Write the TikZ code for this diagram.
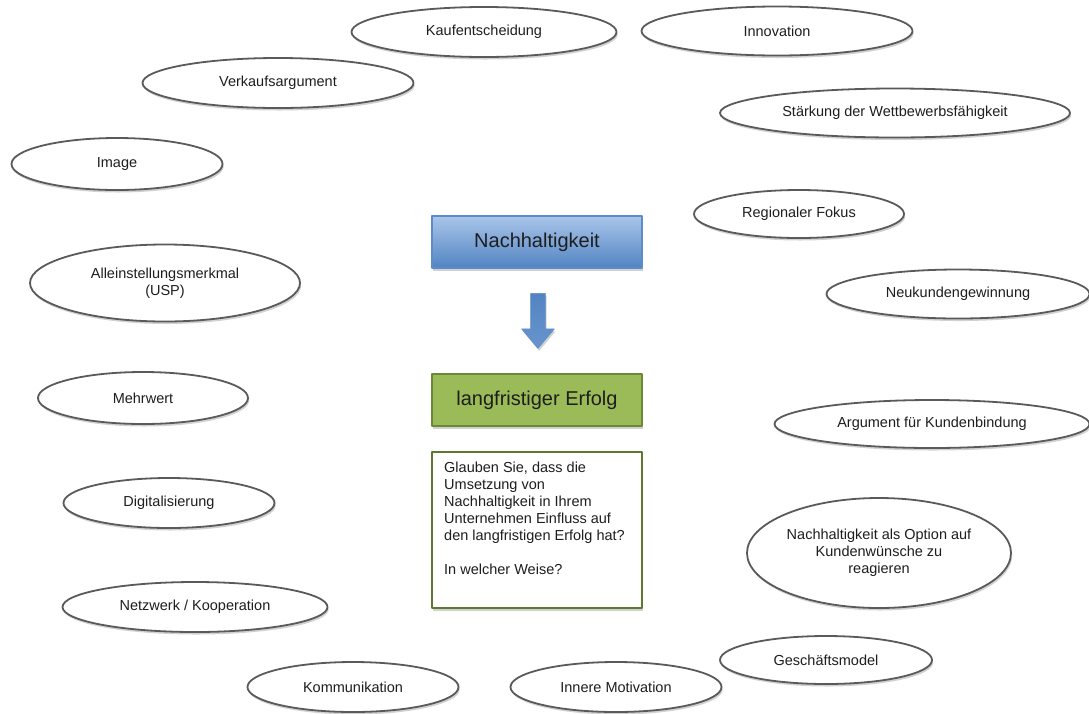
\documentclass[tikz,border=0pt]{standalone}
\usepackage{fontspec}
\setmainfont{Liberation Sans}
\usetikzlibrary{shapes.geometric,shapes.arrows,shadows}
\definecolor{nkInk}{HTML}{1E1E1E}
\definecolor{nkEdge}{HTML}{5A5A5A}
\definecolor{nkBlueTop}{HTML}{A9C5EA}
\definecolor{nkBlueBot}{HTML}{5284C2}
\definecolor{nkBlueLine}{HTML}{5D8CC8}
\definecolor{nkGreen}{HTML}{9BBB59}
\definecolor{nkGreenLine}{HTML}{6A8836}
\definecolor{nkGreenDark}{HTML}{5E7830}
\tikzset{
 ideas/.style={font=\fontsize{14.5}{17}\selectfont,text=nkInk,line join=round},
 soft/.style={drop shadow={shadow xshift=1.2pt,shadow yshift=-2.5pt,opacity=.18,fill=black}},
 bubble/.style={ellipse,draw=nkEdge,fill=white,line width=1.8pt,inner sep=0pt,
   align=center,soft},
 topic/.style={rectangle,draw=nkBlueLine,top color=nkBlueTop,bottom color=nkBlueBot,
   line width=1.4pt,minimum width=210pt,minimum height=52pt,
   font=\fontsize{20}{24}\selectfont,soft},
 result/.style={rectangle,draw=nkGreenLine,fill=nkGreen,line width=2pt,
   minimum width=210pt,minimum height=52pt,font=\fontsize{20}{24}\selectfont,soft},
 question/.style={rectangle,draw=nkGreenDark,fill=white,line width=2.2pt,
   minimum width=210pt,minimum height=156pt,soft},
 downarrow/.style={single arrow,rotate=-90,draw=nkBlueLine,line width=.6pt,
   top color=nkBlueBot,bottom color=nkBlueBot!75!nkBlueTop,
   inner xsep=0pt,inner ysep=7pt,minimum height=55pt,minimum width=32pt,
   single arrow head extend=9pt,single arrow tip angle=80,soft}
}
\begin{document}
\begin{tikzpicture}[ideas,x=1pt,y=-1pt]
 \useasboundingbox (0,0) rectangle (1089,713);
 % core: topic, arrow, result, question
 \node[topic] (nachh) at (537,242) {Nachhaltigkeit};
 \node[downarrow] (pfeil) at (538,316.5) {};
 \node[result] (erfolg) at (537,400) {langfristiger Erfolg};
 \node[question] (frage) at (537,530) {};
 \node[anchor=north west,align=left,inner sep=0pt] (fragetext) at (444,462)
   {Glauben Sie, dass die\\Umsetzung von\\Nachhaltigkeit in Ihrem\\
    Unternehmen Einfluss auf\\den langfristigen Erfolg hat?\\[17pt]In welcher Weise?};
 % bubbles, left side
 \node[bubble,minimum width=271pt,minimum height=50pt] (verkauf) at (278,83) {Verkaufsargument};
 \node[bubble,minimum width=211pt,minimum height=52pt] (image) at (117,164) {Image};
 \node[bubble,minimum width=270pt,minimum height=77pt] (usp) at (165,283) {Alleinstellungsmerkmal\\(USP)};
 \node[bubble,minimum width=210pt,minimum height=52pt] (mehrwert) at (143,398) {Mehrwert};
 \node[bubble,minimum width=211pt,minimum height=50pt] (digital) at (169,503) {Digitalisierung};
 \node[bubble,minimum width=265pt,minimum height=50pt] (netzwerk) at (195,607) {Netzwerk / Kooperation};
 \node[bubble,minimum width=211pt,minimum height=50pt] (komm) at (353,687) {Kommunikation};
 % bubbles, top and right side
 \node[bubble,minimum width=265pt,minimum height=50pt] (kauf) at (484,32) {Kaufentscheidung};
 \node[bubble,minimum width=271pt,minimum height=49pt] (innov) at (777,31) {Innovation};
 \node[bubble,minimum width=350pt,minimum height=49pt] (wettb) at (895,113) {Stärkung der Wettbewerbsfähigkeit};
 \node[bubble,minimum width=210pt,minimum height=48pt] (region) at (799,214) {Regionaler Fokus};
 \node[bubble,minimum width=263pt,minimum height=49pt] (neuk) at (958,294) {Neukundengewinnung};
 \node[bubble,minimum width=315pt,minimum height=48pt] (bindung) at (932,424) {Argument für Kundenbindung};
 \node[bubble,minimum width=264pt,minimum height=110pt] (option) at (879,553)
   {Nachhaltigkeit als Option auf\\Kundenwünsche zu\\reagieren};
 \node[bubble,minimum width=212pt,minimum height=48pt] (modell) at (826,660) {Geschäftsmodel};
 \node[bubble,minimum width=211pt,minimum height=50pt] (motiv) at (616,687) {Innere Motivation};
\end{tikzpicture}
\end{document}
